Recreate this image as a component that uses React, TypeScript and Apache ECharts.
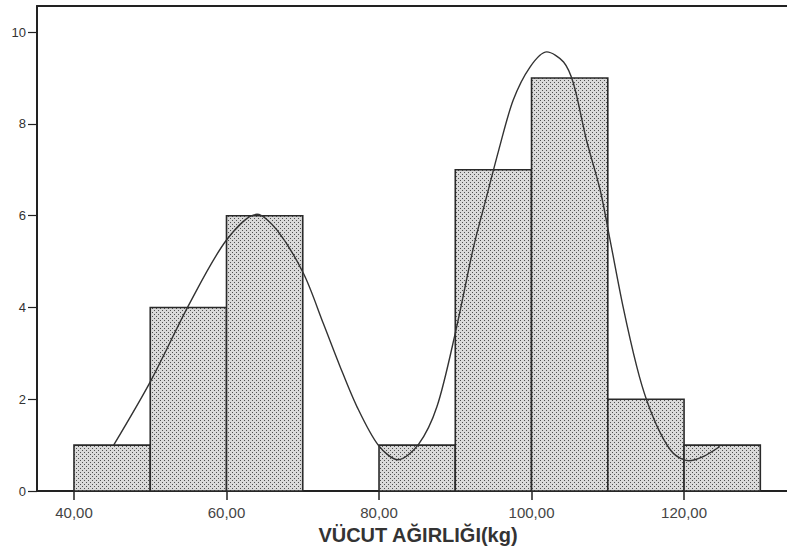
import React, { useEffect, useRef } from "react";
import * as echarts from "echarts";

const binStarts = [40, 50, 60, 70, 80, 90, 100, 110, 120];
const binEnds = [50, 60, 70, 80, 90, 100, 110, 120, 130];
const counts = [1, 4, 6, 0, 1, 7, 9, 2, 1];

const curveX = [45.2, 50.0, 55.2, 60.0, 64.0, 66.6, 70.1, 72.7, 74.9, 77.1, 79.9, 82.5, 85.2, 87.6, 90.0, 92.4, 94.1, 95.7, 97.6, 99.8, 102.0, 104.2, 105.5, 107.2, 109.0, 110.3, 112.0, 113.8, 115.1, 116.9, 118.6, 120.6, 122.5, 124.7];
const curveY = [1.0, 2.38, 4.1, 5.47, 6.03, 5.69, 4.74, 3.65, 2.71, 1.84, 1.0, 0.68, 1.02, 1.84, 3.44, 5.32, 6.41, 7.43, 8.52, 9.24, 9.57, 9.35, 8.88, 7.65, 6.56, 5.47, 4.02, 2.71, 1.98, 1.26, 0.82, 0.66, 0.75, 0.97];

const xTickValues = [40, 60, 80, 100, 120];
const xTickLabels = ["40,00", "60,00", "80,00", "100,00", "120,00"];
const yTickValues = [0, 2, 4, 6, 8, 10];
const yTickLabels = ["0", "2", "4", "6", "8", "10"];
const xAxisTitle = "VÜCUT AĞIRLIĞI(kg)";

function makePattern(): HTMLCanvasElement {
  const c = document.createElement("canvas");
  c.width = 4;
  c.height = 4;
  const ctx = c.getContext("2d")!;
  ctx.fillStyle = "#dadada";
  ctx.fillRect(0, 0, 4, 4);
  ctx.fillStyle = "#505050";
  ctx.fillRect(0, 0, 1, 1);
  ctx.fillRect(2, 2, 1, 1);
  return c;
}

export default function App() {
  const ref = useRef<HTMLDivElement>(null);
  useEffect(() => {
    if (!ref.current) return;
    const chart = echarts.init(ref.current, undefined, { renderer: "svg" });
    const pattern = { image: makePattern(), repeat: "repeat" } as any;
    const binData = binStarts
      .map((s, i) => [s, binEnds[i], counts[i]])
      .filter((d) => d[2] > 0);
    const curveData = curveX.map((x, i) => [x, curveY[i]]);
    const font = "'Liberation Sans', Arial, sans-serif";
    chart.setOption({
      animation: false,
      grid: { left: 37, top: 6, right: 0, bottom: 68 },
      xAxis: [
        {
          type: "value",
          min: 35.15,
          max: 133.5,
          name: xAxisTitle,
          nameLocation: "middle",
          nameGap: 30,
          nameTextStyle: { fontFamily: font, fontSize: 20, fontWeight: "bold", color: "#333", padding: [0, 0, 0, 12] },
          axisLine: { show: true, onZero: false, lineStyle: { color: "#222", width: 2 } },
          axisTick: { show: true, length: 9, customValues: xTickValues, lineStyle: { color: "#222", width: 1.5 } },
          axisLabel: {
            customValues: xTickValues,
            formatter: (v: number) => xTickLabels[xTickValues.indexOf(v)] ?? "",
            fontFamily: font,
            fontSize: 15,
            color: "#444",
            margin: 14,
          },
          splitLine: { show: false },
        },
        {
          type: "value",
          position: "top",
          min: 35.15,
          max: 133.5,
          axisLine: { show: true, onZero: false, lineStyle: { color: "#222", width: 2 } },
          axisTick: { show: false },
          axisLabel: { show: false },
          splitLine: { show: false },
        },
      ],
      yAxis: {
        type: "value",
        min: 0,
        max: 10.57,
        axisLine: { show: true, onZero: false, lineStyle: { color: "#222", width: 2 } },
        axisTick: { show: true, length: 9, customValues: yTickValues, lineStyle: { color: "#222", width: 1.2 } },
        axisLabel: {
          customValues: yTickValues,
          formatter: (v: number) => yTickLabels[yTickValues.indexOf(v)] ?? "",
          fontFamily: font,
          fontSize: 13,
          color: "#333",
          margin: 11,
        },
        splitLine: { show: false },
      },
      series: [
        {
          type: "custom",
          xAxisIndex: 0,
          data: binData,
          encode: { x: [0, 1], y: 2 },
          renderItem: (params: any, api: any) => {
            const p0 = api.coord([api.value(0), api.value(2)]);
            const p1 = api.coord([api.value(1), 0]);
            return {
              type: "rect",
              shape: { x: p0[0], y: p0[1], width: p1[0] - p0[0], height: p1[1] - p0[1] },
              style: { fill: pattern, stroke: "#2a2a2a", lineWidth: 1.6 },
            };
          },
          z: 2,
        },
        {
          type: "line",
          xAxisIndex: 0,
          data: curveData,
          smooth: 0.3,
          showSymbol: false,
          lineStyle: { color: "#333", width: 1.4 },
          z: 3,
        },
      ],
    });
    return () => chart.dispose();
  }, []);
  return (
    <div
      ref={ref}
      style={{ position: "fixed", left: 0, top: 0, width: 787, height: 559, background: "#fff" }}
    />
  );
}
